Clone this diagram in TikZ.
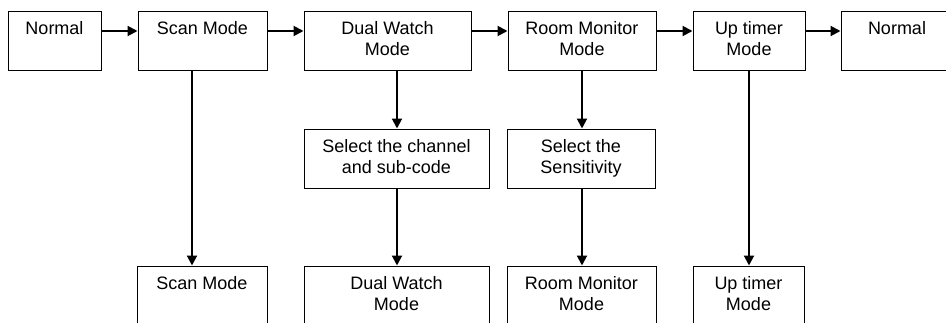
\documentclass[tikz,border=0pt]{standalone}
\usepackage{fontspec}
\setmainfont{Liberation Sans}
\usetikzlibrary{arrows.meta}

\begin{document}
\begin{tikzpicture}[
    x=1pt, y=-1pt,
    mode/.style={rectangle, draw, line width=1pt, minimum height=59pt, inner sep=0pt, align=center, font=\fontsize{18}{21}\selectfont},
    flow/.style={line width=2pt, -{Triangle[length=10pt, width=10pt]}}
]
    \useasboundingbox (0,0) rectangle (946,322);
    \clip (0,0) rectangle (946,322);

    % top row
    \node[mode, minimum width=93pt] (normal) at (54.5,40.5) {\strut Normal\\\strut};
    \node[mode, minimum width=129pt] (scan) at (202.5,40.5) {\strut Scan Mode\\\strut};
    \node[mode, minimum width=167pt] (dual) at (387.5,40.5) {\strut Dual Watch\\\strut Mode};
    \node[mode, minimum width=148pt] (room) at (582,40.5) {\strut Room Monitor\\\strut Mode};
    \node[mode, minimum width=112pt] (uptimer) at (749,40.5) {\strut Up timer\\\strut Mode};
    \node[mode, minimum width=112pt] (normalend) at (897,40.5) {\strut Normal\\\strut};

    % middle row
    \node[mode, minimum width=185pt] (selchannel) at (396.5,158.5) {\strut Select the channel\\\strut and sub-code};
    \node[mode, minimum width=148pt] (selsens) at (581,158.5) {\strut Select the\\\strut Sensitivity};

    % bottom row
    \node[mode, minimum width=130pt] (scanset) at (202,295.5) {\strut Scan Mode\\\strut};
    \node[mode, minimum width=185pt] (dualset) at (396.5,295.5) {\strut Dual Watch\\\strut Mode};
    \node[mode, minimum width=149pt] (roomset) at (581.5,295.5) {\strut Room Monitor\\\strut Mode};
    \node[mode, minimum width=111pt] (upset) at (748.5,295.5) {\strut Up timer\\\strut Mode};

    \draw[flow] ([yshift=9.5pt]normal.east) -- ([yshift=9.5pt]normal.east -| scan.west);
    \draw[flow] ([yshift=9.5pt]scan.east) -- ([yshift=9.5pt]scan.east -| dual.west);
    \draw[flow] ([yshift=9.5pt]dual.east) -- ([yshift=9.5pt]dual.east -| room.west);
    \draw[flow] ([yshift=9.5pt]room.east) -- ([yshift=9.5pt]room.east -| uptimer.west);
    \draw[flow] ([yshift=9.5pt]uptimer.east) -- ([yshift=9.5pt]uptimer.east -| normalend.west);

    \draw[flow] ([xshift=-10.5pt]scan.south) -- ([xshift=-10.5pt]scan.south |- scanset.north);
    \draw[flow] ([xshift=9.5pt]dual.south) -- ([xshift=9.5pt]dual.south |- selchannel.north);
    \draw[flow] ([xshift=0.5pt]selchannel.south) -- ([xshift=0.5pt]selchannel.south |- dualset.north);
    \draw[flow] (room.south) -- (room.south |- selsens.north);
    \draw[flow] (room.south |- selsens.south) -- (room.south |- roomset.north);
    \draw[flow] (uptimer.south) -- (uptimer.south |- upset.north);
\end{tikzpicture}
\end{document}
